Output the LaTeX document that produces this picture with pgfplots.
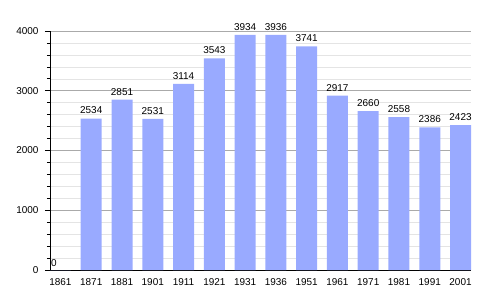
\documentclass[border=0pt]{standalone}
\usepackage{pgfplots}
\pgfplotsset{compat=1.18}
\usepackage{fontspec}
\setmainfont{Liberation Sans}
\definecolor{barblue}{RGB}{153,170,255}
\begin{document}
\begin{tikzpicture}
\useasboundingbox (-50bp,-30bp) rectangle (450bp,270bp);
\begin{axis}[
  at={(0,0)}, anchor=south west,
  scale only axis, width=421bp, height=239bp,
  xmin=-0.34, xmax=13.34, ymin=0, ymax=4000,
  xtick={0,...,13},
  xticklabels={1861,1871,1881,1901,1911,1921,1931,1936,1951,1961,1971,1981,1991,2001},
  x tick style={draw=none},
  ytick={0,1000,2000,3000,4000}, minor y tick num=4,
  ymajorgrids, yminorgrids,
  major grid style={draw={rgb,255:red,170;green,170;blue,170}, line width=0.6bp},
  minor grid style={draw={rgb,255:red,228;green,228;blue,228}, line width=0.6bp},
  axis x line*=bottom, axis y line*=left,
  axis line style={-, black, line width=0.9bp},
  tick align=outside, major tick length=5bp, minor tick length=3bp,
  y tick style={black, line width=0.7bp},
  tick label style={font=\fontsize{10}{12}\selectfont},
  yticklabel style={xshift=-3bp},
  /pgf/number format/assume math mode=true,
  /pgf/number format/1000 sep={},
  scaled y ticks=false,
  nodes near coords style={font=\fontsize{10}{12}\selectfont, black, yshift=1bp},
  clip=false,
]
\addplot[ybar, bar shift=0pt, bar width=21bp, fill=barblue, draw=none,
  nodes near coords, nodes near coords style={xshift=-6.5bp, yshift=-1bp}]
  coordinates {(0,0)};
\addplot[ybar, bar shift=0pt, bar width=21bp, fill=barblue, draw=none,
  nodes near coords]
  coordinates {(1,2534) (2,2851) (3,2531) (4,3114) (5,3543) (6,3934) (7,3936)
    (8,3741) (9,2917) (10,2660) (11,2558) (12,2386) (13,2423)};
\end{axis}
\end{tikzpicture}
\end{document}
